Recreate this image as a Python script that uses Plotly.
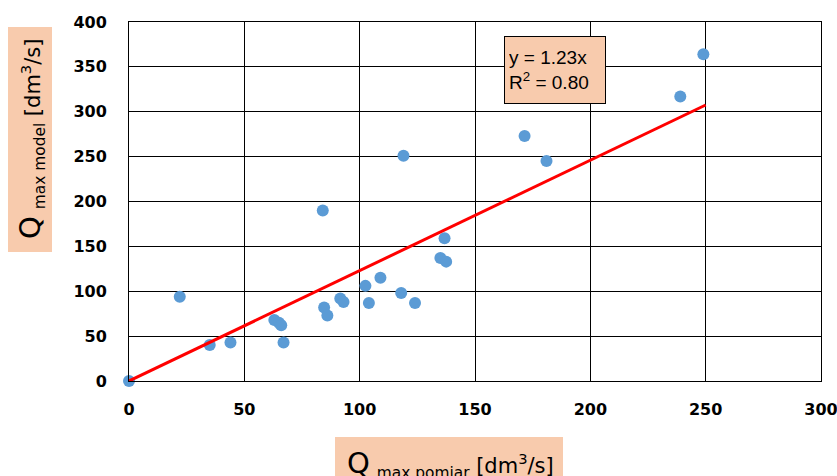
import plotly.graph_objects as go

# Data
q_pomiar = [0, 22, 35, 44, 63, 65, 66, 67, 84, 84.6, 86, 91.6, 93, 102.5, 104, 109,
            118, 119, 124, 135, 136.8, 137.5, 171.5, 181, 239, 249]
q_model = [0, 94, 40, 43, 68, 65, 62, 43, 190, 82, 73, 92, 88, 106, 87, 115,
           98, 251, 87, 137, 159, 133, 273, 245, 317, 364]
slope = 1.23
r2 = 0.80
trend_x = [0, 250]
trend_y = [slope * v for v in trend_x]
x_ticks = [0, 50, 100, 150, 200, 250, 300]
y_ticks = [0, 50, 100, 150, 200, 250, 300, 350, 400]

W, H = 837, 476
L, R, T, B = 129, 16, 22, 95
pw, ph = W - L - R, H - T - B

def px(xp):
    return (xp - L) / pw

def py(yp):
    return (H - B - yp) / ph

fig = go.Figure()
fig.add_trace(go.Scatter(
    x=q_pomiar, y=q_model, mode="markers", cliponaxis=False,
    marker=dict(size=12, color="#5B9BD5", line=dict(width=0)),
    showlegend=False, hoverinfo="x+y"))
fig.add_trace(go.Scatter(
    x=trend_x, y=trend_y, mode="lines", cliponaxis=False,
    line=dict(color="#FF0000", width=3), showlegend=False))

axis_common = dict(showgrid=True, gridcolor="black", gridwidth=1,
                   showline=True, linecolor="black", linewidth=1, mirror=True,
                   zeroline=False, ticks="", automargin=False, ticklabeloverflow="allow",
                   tickfont=dict(family="DejaVu Sans", size=16, color="black", weight="bold"))
fig.update_xaxes(range=[0, 300], tickvals=x_ticks, ticklabelstandoff=14, **axis_common)
fig.update_yaxes(range=[0, 400], tickvals=y_ticks, ticklabelstandoff=18, **axis_common)

peach = "#F8CBAD"
title_txt = ("<span style='font-size:29px'>Q</span>"
             "<span style='font-size:22px'> <sub>{}</sub></span>"
             " [dm<sup>3</sup>/s]")
fig.update_layout(
    width=W, height=H,
    margin=dict(l=L, r=R, t=T, b=B, autoexpand=False),
    paper_bgcolor="white", plot_bgcolor="white",
    shapes=[
        dict(type="rect", xref="paper", yref="paper", layer="below",
             x0=px(8), x1=px(52), y0=py(252), y1=py(27),
             fillcolor=peach, line=dict(width=0)),
        dict(type="rect", xref="paper", yref="paper", layer="below",
             x0=px(335), x1=px(563), y0=py(480), y1=py(437),
             fillcolor=peach, line=dict(width=0)),
    ],
    annotations=[
        dict(xref="paper", yref="paper", x=px(31), y=py(139), showarrow=False,
             textangle=-90, xanchor="center", yanchor="middle",
             text=title_txt.format("max model"),
             font=dict(family="DejaVu Sans", size=21, color="black")),
        dict(xref="paper", yref="paper", x=px(450), y=py(464), showarrow=False,
             xanchor="center", yanchor="middle",
             text=title_txt.format("max pomiar"),
             font=dict(family="DejaVu Sans", size=21, color="black")),
        dict(xref="x", yref="y", x=(554.5 - L) / pw * 300, y=(H - B - 70) / ph * 400,
             showarrow=False, xanchor="center", yanchor="middle", align="left",
             width=92, height=58,
             text=f"y = {slope:.2f}x<br>R<sup>2</sup> = {r2:.2f}",
             font=dict(family="Liberation Sans Narrow, Liberation Sans", size=19, color="black"),
             bgcolor=peach, bordercolor="black", borderwidth=1, borderpad=4),
    ],
)

fig.write_html("out.html", config={"displayModeBar": False},
               post_script="document.body.style.margin='0';document.body.style.padding='0';document.body.style.overflow='hidden';")
